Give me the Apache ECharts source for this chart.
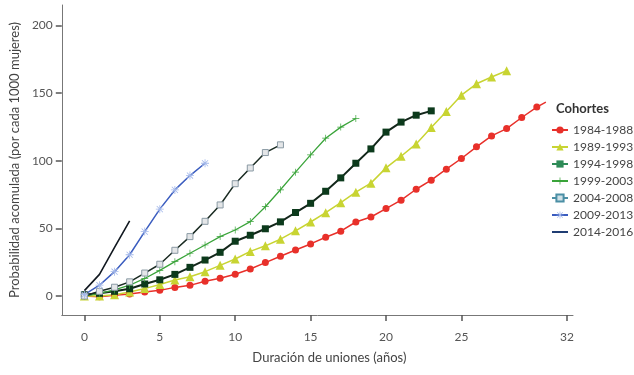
<!DOCTYPE html>
<html>
<head>
<meta charset="utf-8">
<script src="https://cdn.jsdelivr.net/npm/echarts@6/dist/echarts.min.js"></script>
<style>
  html, body { margin: 0; padding: 0; background: #fff; }
  #chart { width: 634px; height: 375px; }
</style>
</head>
<body>
<div id="chart"></div>
<script>
// años de duración (0, 1, 2, ...) -> probabilidad acumulada por 1000 mujeres
const c1984 = [0, -0.5, 0.5, 1.5, 3, 4.2, 6.4, 7.9, 10.9, 13.1, 16.1, 20, 24.7, 29.4, 34, 38.5, 43.4, 47.9, 54.7, 58.4, 64.6, 70.8, 78.9, 85.6, 93.7, 101.6, 110.2, 118.3, 123.7, 131.9, 139.6]
const c1984End = [30.6, 143.3]  // la línea sigue un poco sin marcador
const c1989 = [0, 0, 1, 3, 5.5, 8.5, 11.8, 14.3, 18, 22.7, 27.4, 33, 37.1, 42, 48.2, 54.7, 61.6, 69, 76.7, 83.4, 94.7, 103.3, 112.4, 124.5, 136.3, 148.4, 156.8, 161.8, 166.4]
const c1994 = [1, 2, 3.5, 5.4, 8.9, 12, 16, 21.2, 26.6, 32.3, 40.5, 44.9, 49.7, 54.8, 61.7, 68.5, 77.4, 87.3, 98.1, 108.7, 121.1, 128.5, 133.6, 136.8]
const c1999 = [0, 2, 4.5, 8, 13, 19, 25.4, 31.6, 37.7, 43.9, 48.8, 55, 66, 78.5, 91.5, 104.3, 116.6, 124.8, 131.2]
const c2004 = [0, 3.5, 6.5, 10.5, 17, 23.5, 33.8, 43.9, 55.2, 67.3, 83, 94.6, 106, 111.7]
const c2009 = [1, 8, 18, 30.5, 47.6, 64.2, 78.4, 89, 98.1]
const c2014 = [4, 16, 36, 55.5]

const cohortes = ['1984-1988', '1989-1993', '1994-1998', '1999-2003', '2004-2008', '2009-2013', '2014-2016']
const xTicks = [0, 5, 10, 15, 20, 25, 32]
const yTicks = [0, 50, 100, 150, 200]

const font = 'Lato, "Open Sans", sans-serif'
const plus = 'path://M4.5,0h1v10h-1z M0,4.5h10v1h-10z'
const asterisk = 'path://M4.5,0h1v10h-1z M0,4.5h10v1h-10z M1.5,0.8L9.2,8.5L8.5,9.2L0.8,1.5z M0.8,8.5L8.5,0.8L9.2,1.5L1.5,9.2z'
const lineIcon = 'path://M0,0h16v2h-16z'

function pairs (arr) {
  return arr.map((v, i) => [i, v])
}

function serie (name, data, color, symbol, size, width, extra) {
  return Object.assign({
    name: name,
    type: 'line',
    data: data,
    symbol: symbol,
    symbolSize: size,
    showSymbol: symbol !== 'none',
    lineStyle: { color: color, width: width },
    itemStyle: { color: color },
    emphasis: { disabled: true },
    animation: false
  }, extra || {})
}

const chart = echarts.init(document.getElementById('chart'))
chart.setOption({
  backgroundColor: '#fff',
  title: {
    text: 'Cohortes',
    left: 556,
    top: 102,
    padding: 0,
    textStyle: { fontFamily: font, fontSize: 13, fontWeight: 'bold', color: '#333' }
  },
  legend: {
    orient: 'vertical',
    left: 551,
    top: 124,
    padding: 0,
    itemWidth: 16,
    itemHeight: 9,
    itemGap: 5,
    textStyle: { fontFamily: font, fontSize: 12, color: '#444', lineHeight: 12 },
    data: [
      { name: cohortes[0] },
      { name: cohortes[1] },
      { name: cohortes[2], itemStyle: { color: '#2e8b57' }, lineStyle: { color: '#2e8b57' } },
      { name: cohortes[3] },
      { name: cohortes[4], itemStyle: { color: '#cfe0e6', borderColor: '#4b8fa5' }, lineStyle: { color: '#4b8fa5' } },
      { name: cohortes[5] },
      { name: cohortes[6], icon: lineIcon, itemHeight: 2, itemStyle: { color: '#1f3d73' } }
    ]
  },
  grid: {
    left: 60,
    top: 5,
    width: 513,
    height: 310
  },
  xAxis: {
    type: 'value',
    min: -1.5,
    max: 32.4,
    name: 'Duración de uniones (años)',
    nameLocation: 'middle',
    nameGap: 36,
    nameTextStyle: { fontFamily: font, fontSize: 13, color: '#444', padding: [0, 0, 0, 24] },
    axisLine: { show: true, onZero: false, lineStyle: { color: '#777', width: 1 } },
    axisTick: { show: true, length: 6, customValues: xTicks, lineStyle: { color: '#555', width: 1.5 } },
    axisLabel: { customValues: xTicks, margin: 16, fontFamily: font, fontSize: 12, color: '#555' },
    splitLine: { show: false }
  },
  yAxis: {
    type: 'value',
    min: -14,
    max: 215,
    name: 'Probabilidad acomulada (por cada 1000 mujeres)',
    nameLocation: 'middle',
    nameGap: 38,
    nameTextStyle: { fontFamily: font, fontSize: 13, color: '#444' },
    axisLine: { show: true, onZero: false, lineStyle: { color: '#777', width: 1 } },
    axisTick: { show: true, length: 6, customValues: yTicks, lineStyle: { color: '#555', width: 1.5 } },
    axisLabel: { customValues: yTicks, margin: 9, fontFamily: font, fontSize: 12, color: '#555' },
    splitLine: { show: false }
  },
  series: [
    serie(cohortes[0], pairs(c1984).concat([{ value: c1984End, symbol: 'none' }]), '#e8302a', 'circle', 7, 1.5),
    serie(cohortes[1], pairs(c1989), '#c8d432', 'triangle', 9, 1.5),
    serie(cohortes[2], pairs(c1994), '#0c3a1c', 'rect', 7, 2, {
      lineStyle: { color: '#13261a', width: 2 }
    }),
    serie(cohortes[3], pairs(c1999), '#3aa43a', plus, 7, 1.3),
    serie(cohortes[4], pairs(c2004), '#1a2b22', 'rect', 6, 1.5, {
      itemStyle: { color: '#e4e6e8', borderColor: '#8a9aa4', borderWidth: 1 }
    }),
    serie(cohortes[5], pairs(c2009), '#3a5cbf', asterisk, 8, 1.5, {
      itemStyle: { color: '#a3b8ea' }
    }),
    serie(cohortes[6], pairs(c2014), '#111820', 'none', 0, 1.6)
  ]
})
</script>
</body>
</html>
